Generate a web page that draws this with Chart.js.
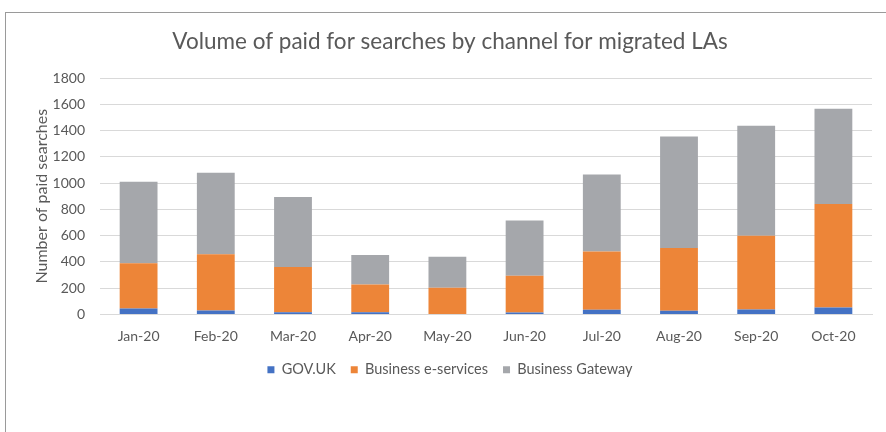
<!DOCTYPE html>
<html>
<head>
<meta charset="utf-8">
<script src="https://cdn.jsdelivr.net/npm/chart.js@4/dist/chart.umd.min.js"></script>
<style>
  html,body{margin:0;padding:0;background:#fff;}
  #wrap{position:relative;width:886px;height:432px;overflow:hidden;}
  #frame{position:absolute;left:5px;top:12px;width:1000px;height:600px;
    border-left:1px solid #9a9a9a;border-top:1px solid #9a9a9a;}
  #c{position:absolute;left:0;top:0;}
</style>
</head>
<body>
<div id="wrap">
  <div id="frame"></div>
  <canvas id="c" width="886" height="432"></canvas>
</div>
<script>
// data
const months=['Jan-20','Feb-20','Mar-20','Apr-20','May-20','Jun-20','Jul-20','Aug-20','Sep-20','Oct-20'];
const govUk=[45,30,18,18,3,15,36,28,38,53];
const eServices=[345,428,343,211,200,280,444,478,562,788];
const gateway=[621,620,534,223,237,420,586,849,836,725];
const yMax=1800, yStep=200;

const FONT='Lato, "Open Sans", sans-serif';
const TXT='#595959';

new Chart(document.getElementById('c'),{
  type:'bar',
  data:{labels:months,datasets:[
    {label:'GOV.UK',data:govUk,backgroundColor:'#4472C4'},
    {label:'Business e-services',data:eServices,backgroundColor:'#ED8538'},
    {label:'Business Gateway',data:gateway,backgroundColor:'#A5A7AB'},
  ]},
  options:{
    responsive:false,animation:false,
    categoryPercentage:1,barPercentage:0.49,
    layout:{padding:{left:28,right:14,top:0,bottom:45}},
    plugins:{
      title:{display:true,text:'Volume of paid for searches by channel for migrated LAs',
        color:TXT,font:{family:FONT,size:22.5,weight:'normal'},padding:{top:28,bottom:23}},
      legend:{position:'bottom',
        labels:{color:TXT,font:{family:FONT,size:14.5},boxWidth:7,boxHeight:7,padding:15}},
      tooltip:{enabled:false},
    },
    scales:{
      x:{stacked:true,
        grid:{display:false,drawTicks:false},
        border:{color:'#d9d9d9'},
        ticks:{color:TXT,font:{family:FONT,size:14},padding:14,maxRotation:0},
        afterFit:s=>{s.height=33;}},
      y:{stacked:true,min:0,max:yMax,
        grid:{color:'#d9d9d9',drawTicks:false},
        border:{display:false},
        ticks:{stepSize:yStep,color:TXT,font:{family:FONT,size:14},padding:15,
          callback:v=>String(v)},
        title:{display:true,text:'Number of paid searches',color:TXT,
          font:{family:FONT,size:16},padding:{top:4,bottom:0}},
        afterFit:s=>{s.width=72;}},
    },
  },
});
</script>
</body>
</html>
